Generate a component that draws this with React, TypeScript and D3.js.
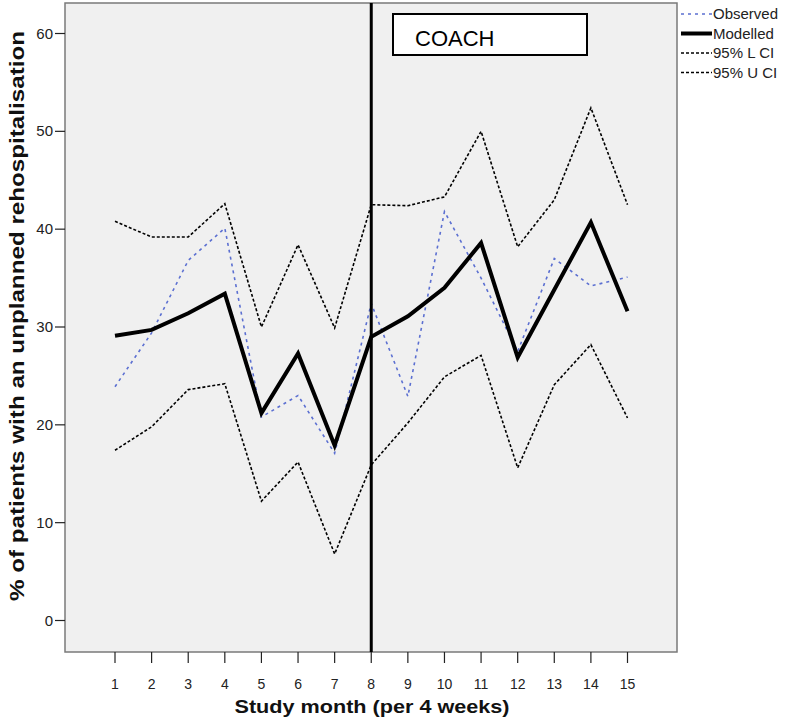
import React from "react";
import * as d3 from "d3";

const months = [1, 2, 3, 4, 5, 6, 7, 8, 9, 10, 11, 12, 13, 14, 15];
const observed = [23.9, 29.4, 36.8, 40.1, 20.8, 23.0, 17.1, 32.4, 22.9, 41.8, 35.0, 27.5, 37.0, 34.2, 35.1];
const modelled = [29.1, 29.7, 31.4, 33.4, 21.2, 27.3, 17.9, 29.0, 31.1, 34.0, 38.6, 26.9, 33.8, 40.7, 31.6];
const lowerCI = [17.4, 19.8, 23.6, 24.2, 12.2, 16.2, 6.8, 15.9, 20.2, 24.9, 27.1, 15.6, 24.1, 28.2, 20.7];
const upperCI = [40.8, 39.2, 39.2, 42.6, 30.0, 38.4, 29.9, 42.5, 42.4, 43.3, 50.0, 38.2, 43.0, 52.4, 42.5];
const yTicks = [0, 10, 20, 30, 40, 50, 60];
const legendItems = ["Observed", "Modelled", "95% L CI", "95% U CI"];
const interventionMonth = 8;
const boxLabel = "COACH";
const xTitle = "Study month (per 4 weeks)";
const yTitle = "% of patients with an unplanned rehospitalisation";

export default function App() {
  const W = 786, H = 717;
  const left = 65, right = 677, top = 3, bottom = 652;
  const x = d3.scaleLinear().domain([1, 15]).range([115, 627.5]);
  const y = d3.scaleLinear().domain([0, 60]).range([620.5, 33.5]);
  const line = (vals: number[]) =>
    d3.line<number>().x((_, i) => x(months[i])).y((v) => y(v))(vals) || "";
  const font = "'Liberation Sans', Arial, sans-serif";
  const legendStyles = [
    { stroke: "#5b6fd1", width: 1.5, dash: "3,4" },
    { stroke: "#000", width: 4, dash: "" },
    { stroke: "#000", width: 1.5, dash: "3,2" },
    { stroke: "#000", width: 1.5, dash: "3,2" },
  ];
  return (
    <svg width={W} height={H} style={{ position: "absolute", left: 0, top: 0, background: "#fff" }}>
      <rect x={left} y={top} width={right - left} height={bottom - top} fill="#f0f0f0" stroke="#7a7a7a" strokeWidth={1.5} />
      {yTicks.map((t) => (
        <g key={t}>
          <line x1={55} x2={left} y1={y(t)} y2={y(t)} stroke="#222" strokeWidth={1.2} />
          <text x={53} y={y(t) + 5} textAnchor="end" fontFamily={font} fontSize={15} fill="#222">{t}</text>
        </g>
      ))}
      {months.map((m) => (
        <g key={m}>
          <line x1={x(m)} x2={x(m)} y1={bottom} y2={bottom + 11} stroke="#222" strokeWidth={1.2} />
          <text x={x(m)} y={689} textAnchor="middle" fontFamily={font} fontSize={14} fill="#222">{m}</text>
        </g>
      ))}
      <path d={line(lowerCI)} fill="none" stroke="#000" strokeWidth={1.6} strokeDasharray="3,2" />
      <path d={line(upperCI)} fill="none" stroke="#000" strokeWidth={1.6} strokeDasharray="3,2" />
      <path d={line(observed)} fill="none" stroke="#5b6fd1" strokeWidth={1.6} strokeDasharray="3,4" />
      <path d={line(modelled)} fill="none" stroke="#000" strokeWidth={4} strokeLinejoin="miter" />
      <line x1={x(interventionMonth)} x2={x(interventionMonth)} y1={top} y2={bottom} stroke="#000" strokeWidth={3} />
      <rect x={393} y={14} width={194} height={41} fill="#fff" stroke="#000" strokeWidth={2} />
      <text x={415} y={46} fontFamily={font} fontSize={22} fill="#000">{boxLabel}</text>
      {legendItems.map((name, i) => {
        const yy = 14 + i * 19.5;
        const s = legendStyles[i];
        return (
          <g key={name}>
            <line x1={681} x2={712} y1={yy} y2={yy} stroke={s.stroke} strokeWidth={s.width} strokeDasharray={s.dash} />
            <text x={713} y={yy + 5} fontFamily={font} fontSize={15} fill="#222">{name}</text>
          </g>
        );
      })}
      <text x={372} y={713} textAnchor="middle" fontFamily={font} fontSize={19} fontWeight="bold" fill="#111" textLength={275} lengthAdjust="spacingAndGlyphs">{xTitle}</text>
      <text transform={`translate(24, 316) rotate(-90)`} textAnchor="middle" fontFamily={font} fontSize={21} fontWeight="bold" fill="#111" textLength={570} lengthAdjust="spacingAndGlyphs">{yTitle}</text>
    </svg>
  );
}
